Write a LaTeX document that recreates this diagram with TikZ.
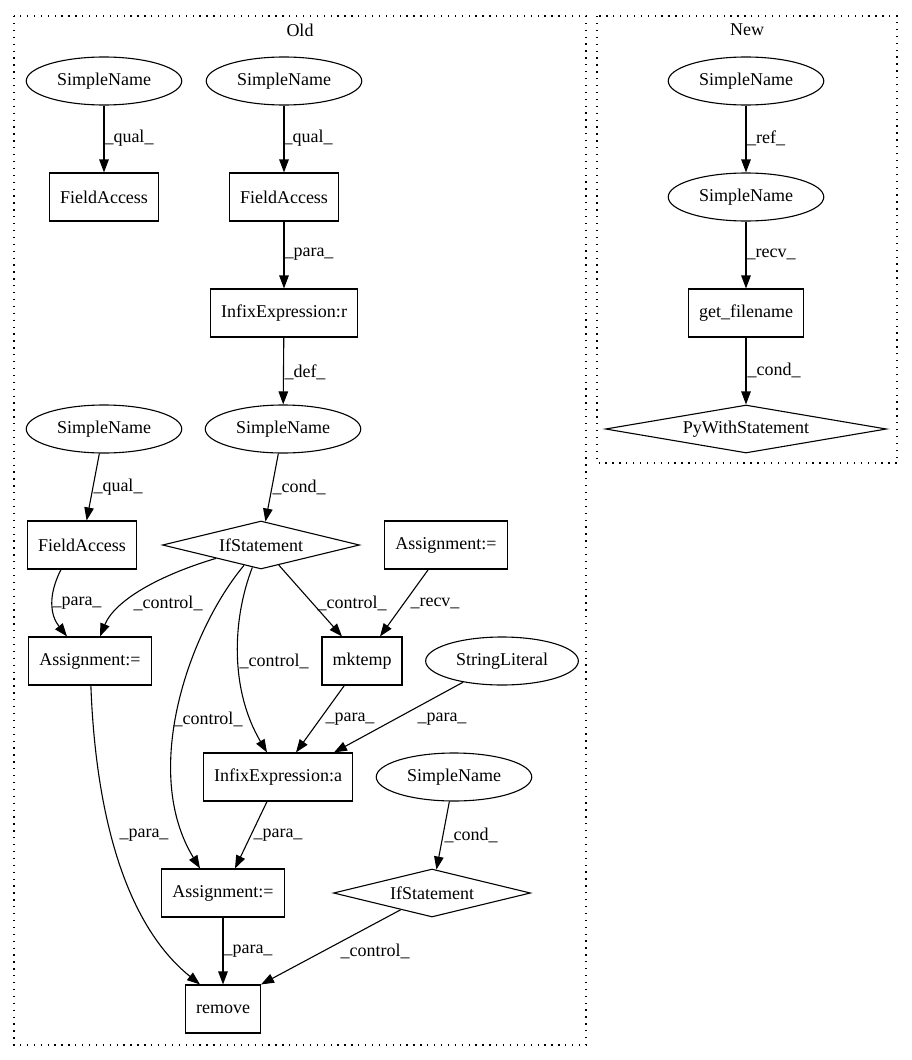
\documentclass[tikz,border=0pt]{standalone}
\usepackage{fontspec}
\setmainfont{Liberation Serif}
\usepackage{tikz}
\usetikzlibrary{arrows.meta,shapes.geometric}

\begin{document}
\begin{tikzpicture}[
  x=1pt, y=-1pt,
  every node/.style={font=\fontsize{18}{21}\selectfont},
  box/.style={draw, line width=1.1pt, minimum height=48pt, inner xsep=10.5pt},
  oval/.style={draw, ellipse, line width=1.1pt, minimum height=48pt, inner xsep=8pt},
  cond/.style={draw, diamond, shape aspect=5, line width=1.1pt, inner sep=0pt, minimum height=48pt},
  lbl/.style={inner sep=0pt},
  cluster/.style={line width=1.1pt, dash pattern=on 1.3pt off 5.6pt},
  >={Triangle[length=13pt,width=9.5pt]}, line width=1.1pt
]
\useasboundingbox (0,0) rectangle (912,1060);

% clusters
\draw[cluster] (14,16) rectangle (586,1045);
\draw[cluster] (597,16) rectangle (897,463);
\node (oldtitle) at (300,30) {Old};
\node (newtitle) at (747,30) {New};

% Old
\node[oval] (sn1) at (104,81) {SimpleName};
\node[oval] (sn2) at (284,81) {SimpleName};
\node[box] (fa1) at (104,197) {FieldAccess};
\node[box] (fa2) at (284,197) {FieldAccess};
\node[box] (infr) at (284,313) {InfixExpression:r};
\node[oval] (sn3) at (283,429) {SimpleName};
\node[oval] (sn4) at (104,429) {SimpleName};
\node[box] (fa3) at (82,545) {FieldAccess};
\node[cond, minimum width=197pt] (if1) at (261,545) {IfStatement};
\node[box] (asgtr) at (446,545) {Assignment:=};
\node[box] (asgl) at (90,661) {Assignment:=};
\node[box] (mktemp) at (362,661) {mktemp};
\node[oval] (strlit) at (502,661) {StringLiteral};
\node[box] (infa) at (278,777) {InfixExpression:a};
\node[oval] (sn5) at (454,777) {SimpleName};
\node[box] (asgb) at (223,893) {Assignment:=};
\node[cond, minimum width=197pt] (if2) at (432,893) {IfStatement};
\node[box] (remove) at (223,1009) {remove};

% New
\node[oval] (sn6) at (746,81) {SimpleName};
\node[oval] (sn7) at (746,197) {SimpleName};
\node[box] (getfn) at (746,313) {get\_filename};
\node[cond, minimum width=281pt] (pywith) at (746,429) {PyWithStatement};

% edges (Old)
\draw[->] (sn1) -- (fa1) node[lbl] at (129,138) {\_qual\_};
\draw[->] (sn2) -- (fa2) node[lbl] at (308,138) {\_qual\_};
\draw[->] (fa2) -- (infr) node[lbl] at (309,254) {\_para\_};
\draw[->] (infr) -- (sn3) node[lbl] at (305,372) {\_def\_};
\draw[->] (sn4) -- (fa3) node[lbl] at (118,487) {\_qual\_};
\draw[->] (sn3) -- (if1) node[lbl] at (299,487) {\_cond\_};
\draw[->] ([xshift=-21pt]fa3.south) .. controls (48,595) and (50,615) .. ([xshift=-23pt]asgl.north)
  node[lbl] at (77,603) {\_para\_};
\draw[->] (if1) .. controls (160,575) and (115,600) .. ([xshift=10pt]asgl.north)
  node[lbl] at (168,603) {\_control\_};
\draw[->] (if1) -- ([xshift=-20pt]mktemp.north) node[lbl] at (352,603) {\_control\_};
\draw[->] (asgtr) -- ([xshift=18pt]mktemp.north) node[lbl] at (435,603) {\_recv\_};
\draw[->] (if1) .. controls (232,620) and (230,690) .. ([xshift=-11pt]infa.north)
  node[lbl] at (274,661) {\_control\_};
\draw[->] (if1) .. controls (190,630) and (140,770) .. ([xshift=-23pt]asgb.north)
  node[lbl] at (208,719) {\_control\_};
\draw[->] (mktemp) -- ([xshift=18pt]infa.north) node[lbl] at (350,719) {\_para\_};
\draw[->] (strlit) -- ([xshift=56pt]infa.north) node[lbl] at (442,719) {\_para\_};
\draw[->] (asgl) .. controls (95,800) and (120,920) .. ([xshift=-23pt]remove.north)
  node[lbl] at (144,835) {\_para\_};
\draw[->] ([xshift=-11pt]infa.south) -- ([xshift=12pt]asgb.north) node[lbl] at (278,835) {\_para\_};
\draw[->] (sn5) -- (if2) node[lbl] at (471,835) {\_cond\_};
\draw[->] (asgb) -- (remove) node[lbl] at (248,951) {\_para\_};
\draw[->] (if2) -- (remove.north east) node[lbl] at (375,951) {\_control\_};

% edges (New)
\draw[->] (sn6) -- (sn7) node[lbl] at (766,138) {\_ref\_};
\draw[->] (sn7) -- (getfn) node[lbl] at (771,254) {\_recv\_};
\draw[->] (getfn) -- (pywith) node[lbl] at (774,370) {\_cond\_};
\end{tikzpicture}
\end{document}
